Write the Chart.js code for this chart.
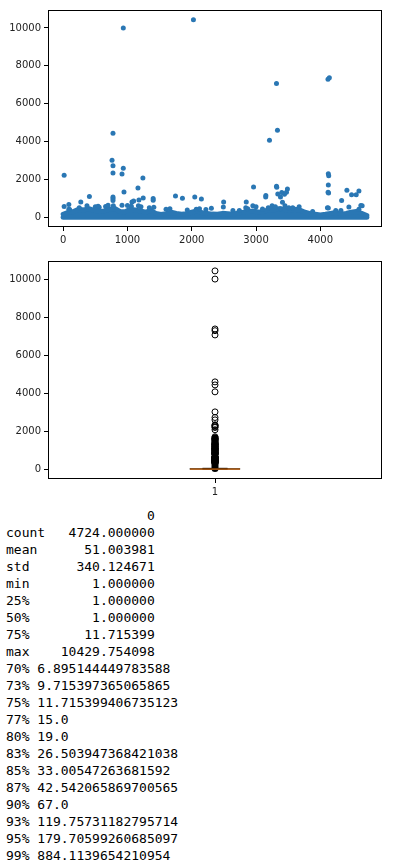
<!DOCTYPE html>
<html>
<head>
<meta charset="utf-8">
<script src="https://cdn.jsdelivr.net/npm/chart.js@4.4.1/dist/chart.umd.min.js"></script>
<style>
  html, body { margin: 0; padding: 0; background: #fff; width: 397px; height: 866px; overflow: hidden; }
  #c1 { position: absolute; left: 0; top: 0; }
  #c2 { position: absolute; left: 0; top: 250px; }
  #desc { position: absolute; left: 6px; top: 507px; margin: 0;
          font-family: "DejaVu Sans Mono", monospace; font-size: 13px; line-height: 17px; color: #000; }
</style>
</head>
<body>
<canvas id="c1" width="397" height="250"></canvas>
<canvas id="c2" width="397" height="250"></canvas>
<pre id="desc"></pre>
<script>
// ---------- data ----------
const indexTicks = [0, 1000, 2000, 3000, 4000];
const valueTicks = [0, 2000, 4000, 6000, 8000, 10000];

// upper edge of the dense band of points (index, value)
const bandX = [0, 80, 160, 240, 320, 400, 480, 560, 640, 720, 800, 880, 960, 1040, 1120, 1200, 1280, 1360, 1440, 1520,
  1600, 1680, 1760, 1840, 1920, 2000, 2080, 2160, 2240, 2320, 2400, 2480, 2560, 2640, 2720, 2800, 2880, 2960, 3040, 3120,
  3200, 3280, 3360, 3440, 3520, 3600, 3680, 3760, 3840, 3920, 4000, 4080, 4160, 4240, 4320, 4400, 4480, 4560, 4640, 4723];
const bandTop = [150, 260, 300, 420, 380, 450, 360, 300, 330, 420, 470, 300, 280, 420, 380, 330, 260, 360, 200, 140,
  180, 260, 200, 150, 180, 260, 330, 240, 200, 160, 150, 200, 180, 150, 230, 260, 300, 330, 260, 300,
  400, 380, 450, 400, 350, 420, 380, 260, 180, 150, 120, 150, 200, 250, 160, 200, 260, 300, 200, 80];
// bottom row of the band (the many values equal to the minimum, 1)
const baseX = [0, 4723];
const baseY = [1, 1];

// points just above the band, giving its ragged edge
const edgeX = [100, 250, 370, 500, 560, 660, 780, 1000, 1060, 1170, 1210, 1340, 1410, 1600, 1660, 1930, 2070, 2120, 2220,
  2640, 2740, 2840, 2870, 2950, 3000, 3100, 3190, 3250, 3300, 3380, 3450, 3510, 3570, 3670, 3880, 4110, 4240, 4320, 4600, 4650];
const edgeY = [400, 500, 600, 550, 520, 560, 600, 620, 580, 600, 550, 500, 520, 420, 450, 380, 420, 450, 400,
  350, 350, 500, 450, 600, 550, 430, 500, 600, 550, 450, 600, 500, 500, 550, 300, 500, 350, 350, 420, 600];

// isolated points standing above the band
const outlierX = [15, 935, 2026, 775, 760, 775, 775, 915, 935, 946, 1240, 1163, 3209, 3318, 3333, 4119, 4140, 4124, 4130, 4124,
  4120, 4128, 2961, 3318, 3322, 3488, 4413, 4486, 4558, 4600, 4331, 4124, 4444, 4630, 3152, 3150, 3338, 3400, 3380, 3442,
  3473, 3411, 2848, 2496, 2491, 2305, 2150, 2047, 1855, 1747, 1400, 1400, 1245, 1178, 1070, 1096, 775, 775, 775, 915,
  274, 408, 15, 88, 88, 543, 698];
const outlierY = [2220, 10000, 10430, 4430, 3010, 2715, 2330, 2280, 2590, 1330, 2070, 1540, 4065, 7060, 4590, 7285, 7375, 2295, 2190, 1700,
  1313, 1280, 1597, 1628, 1580, 1490, 1420, 1190, 1190, 1385, 875, 490, 540, 620, 1140, 1070, 1225, 1300, 1070, 1210,
  1310, 790, 805, 805, 540, 470, 960, 1070, 1000, 1120, 980, 890, 1015, 910, 805, 860, 1070, 980, 875, 630,
  805, 1085, 560, 665, 420, 580, 630];

// box plot statistics
const boxPositions = [1];
const boxLabels = ['1'];
const boxQuartiles = [1, 1, 11.715399];     // Q1, median, Q3
const boxWhiskers = [1, 27.8];              // low, high
const denseFlierRange = [28, 1650];         // fliers so dense they merge into a solid column

// describe() output
const describeHeader = '0';
const describeLabels = ['count', 'mean', 'std', 'min', '25%', '50%', '75%', 'max'];
const describeValues = ['4724.000000', '51.003981', '340.124671', '1.000000', '1.000000', '1.000000', '11.715399', '10429.754098'];
const pctLabels = ['70%', '73%', '75%', '77%', '80%', '83%', '85%', '87%', '90%', '93%', '95%', '99%'];
const pctValues = ['6.895144449783588', '9.715397365065865', '11.715399406735123', '15.0', '19.0', '26.503947368421038',
  '33.00547263681592', '42.542065869700565', '67.0', '119.75731182795714', '179.70599260685097', '884.1139654210954'];

// ---------- rendering ----------
const BLUE = '#2a77b4';
const TXT = '#222';
const tickFont = { family: 'DejaVu Sans', size: 10 };

const framePlugin = {
  id: 'frame',
  afterDraw(chart) {
    const a = chart.chartArea, ctx = chart.ctx;
    ctx.save();
    ctx.strokeStyle = '#000';
    ctx.lineWidth = 1;
    ctx.strokeRect(Math.round(a.left) + 0.5, Math.round(a.top) + 0.5,
      Math.round(a.right - a.left) - 1, Math.round(a.bottom - a.top) - 1);
    ctx.restore();
  }
};

function axis(min, max, ticks, labelFn, isX, fitSize) {
  return {
    type: 'linear', min, max,
    afterBuildTicks: s => { s.ticks = ticks.map(v => ({ value: v })); },
    afterFit: s => { if (isX) s.height = fitSize; else s.width = fitSize; },
    border: { display: false },
    grid: { display: true, drawOnChartArea: false, drawTicks: true, tickLength: 4, color: '#000', lineWidth: 1 },
    ticks: { color: TXT, font: tickFont, padding: 3, maxRotation: 0, autoSkip: false,
             callback: labelFn }
  };
}

const commonOpts = {
  responsive: false, animation: false, devicePixelRatio: 1,
  plugins: { legend: { display: false }, tooltip: { enabled: false } },
};

// scatter chart
new Chart(document.getElementById('c1'), {
  type: 'scatter',
  data: {
    datasets: [
      { data: outlierX.map((x, i) => ({ x, y: outlierY[i] })), backgroundColor: BLUE, borderWidth: 0, pointRadius: 2.5, order: 0 },
      { data: edgeX.map((x, i) => ({ x, y: edgeY[i] })), backgroundColor: BLUE, borderWidth: 0, pointRadius: 2.5, order: 0 },
      { data: bandX.map((x, i) => ({ x, y: bandTop[i] })), showLine: true, borderColor: BLUE, borderWidth: 5,
        borderJoinStyle: 'round', borderCapStyle: 'round', backgroundColor: BLUE, fill: 'origin', pointRadius: 0, order: 1 },
      { data: baseX.map((x, i) => ({ x, y: baseY[i] })), showLine: true, borderColor: BLUE, borderWidth: 5,
        borderCapStyle: 'round', pointRadius: 0, order: 2 }
    ]
  },
  options: Object.assign({}, commonOpts, {
    layout: { padding: { top: 10, right: 15, left: 0, bottom: 0 } },
    scales: {
      x: axis(-236, 4959, indexTicks, v => String(v), true, 23),
      y: axis(-521, 10951, valueTicks, v => String(v), false, 48)
    }
  }),
  plugins: [framePlugin]
});

// box plot
const bw = 0.15, cw = bw / 2, bx = boxPositions[0];
new Chart(document.getElementById('c2'), {
  type: 'scatter',
  data: {
    datasets: [
      { data: [{ x: bx - bw / 2, y: boxQuartiles[1] }, { x: bx + bw / 2, y: boxQuartiles[1] }], showLine: true,
        borderColor: '#ff7f0e', borderWidth: 1, pointRadius: 0, order: 0 },
      { data: outlierY.concat(edgeY).map(y => ({ x: bx, y })), pointStyle: 'circle', pointRadius: 3, borderColor: '#000',
        backgroundColor: 'rgba(0,0,0,0)', borderWidth: 1, order: 1 },
      { data: [{ x: bx, y: denseFlierRange[0] }, { x: bx, y: denseFlierRange[1] }], showLine: true,
        borderColor: '#000', borderWidth: 7, borderCapStyle: 'round', pointRadius: 0, order: 2 },
      { data: [{ x: bx - bw / 2, y: boxQuartiles[0] }, { x: bx + bw / 2, y: boxQuartiles[0] }, { x: bx + bw / 2, y: boxQuartiles[2] },
               { x: bx - bw / 2, y: boxQuartiles[2] }, { x: bx - bw / 2, y: boxQuartiles[0] }], showLine: true,
        borderColor: '#000', borderWidth: 1, pointRadius: 0, order: 3 },
      { data: [{ x: bx, y: boxQuartiles[2] }, { x: bx, y: boxWhiskers[1] }], showLine: true,
        borderColor: '#000', borderWidth: 1, pointRadius: 0, order: 3 },
      { data: [{ x: bx - cw / 2, y: boxWhiskers[1] }, { x: bx + cw / 2, y: boxWhiskers[1] }], showLine: true,
        borderColor: '#000', borderWidth: 1.5, pointRadius: 0, order: 3 },
      { data: [{ x: bx - cw / 2, y: boxWhiskers[0] }, { x: bx + cw / 2, y: boxWhiskers[0] }], showLine: true,
        borderColor: '#000', borderWidth: 1, pointRadius: 0, order: 4 }
    ]
  },
  options: Object.assign({}, commonOpts, {
    layout: { padding: { top: 11, right: 15, left: 0, bottom: 0 } },
    scales: {
      x: axis(0.5, 1.5, boxPositions, v => boxLabels[boxPositions.indexOf(v)] || '', true, 21),
      y: axis(-521, 10951, valueTicks, v => String(v), false, 48)
    }
  }),
  plugins: [framePlugin]
});

// describe text
const W = 19;
const lines = [describeHeader.padStart(W)];
describeLabels.forEach((l, i) => lines.push(l + describeValues[i].padStart(W - l.length)));
pctLabels.forEach((l, i) => lines.push(l + ' ' + pctValues[i]));
document.getElementById('desc').textContent = lines.join('\n');
</script>
</body>
</html>
